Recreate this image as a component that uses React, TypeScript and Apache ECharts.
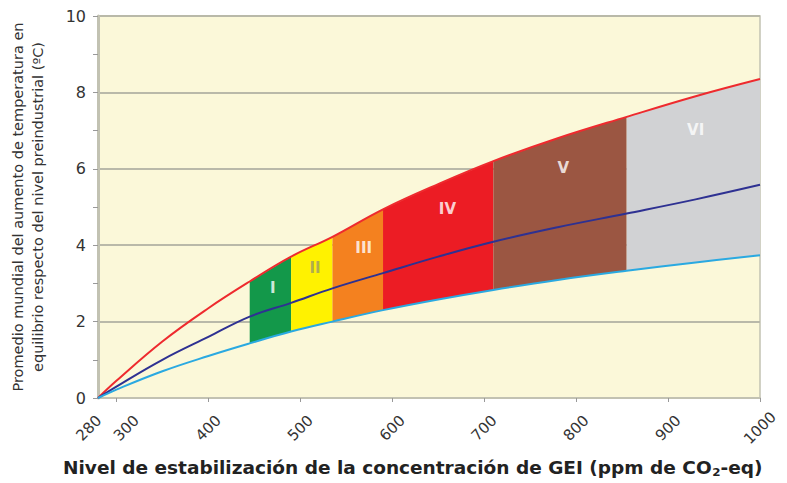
import React, { useEffect, useRef } from 'react';
import * as echarts from 'echarts';

// CO2-eq concentration (ppm) at which the curves are read
const X = [280, 300, 350, 400, 445, 490, 535, 590, 650, 710, 780, 855, 930, 1000];
// Warming (°C)
const upper = [0, 0.45, 1.48, 2.35, 3.05, 3.7, 4.22, 4.94, 5.6, 6.2, 6.8, 7.36, 7.9, 8.35];
const middle = [0, 0.3, 1.0, 1.6, 2.13, 2.49, 2.87, 3.27, 3.7, 4.09, 4.47, 4.83, 5.2, 5.58];
const lower = [0, 0.22, 0.7, 1.1, 1.43, 1.74, 2.0, 2.3, 2.58, 2.83, 3.09, 3.33, 3.55, 3.74];

// Stabilization categories
const bandNames = ['I', 'II', 'III', 'IV', 'V', 'VI'];
const bandStart = [445, 490, 535, 590, 710, 855];
const bandEnd = [490, 535, 590, 710, 855, 1000];
const bandColors = ['#13984a', '#fff200', '#f4811f', '#ec1c24', '#9b5642', '#d1d2d4'];
const labelX = [470, 516, 569, 660, 786, 930];
const labelY = [2.88, 3.4, 3.92, 4.94, 6.01, 7.02];
const labelColors = ['#ffffff', '#9a9a66', '#ffffff', '#ffffff', '#ffffff', '#ffffff'];

const xLabelValues = [300, 400, 500, 600, 700, 800, 900, 1000];
const xStartLabel = [280];
const xTickValues = [300, 400, 500, 600, 700, 800, 900, 1000];

const FONT = 'DejaVu Sans';

export default function App() {
  const ref = useRef<HTMLDivElement>(null);

  useEffect(() => {
    if (!ref.current) return;
    const chart = echarts.init(ref.current, undefined, { renderer: 'svg' });
    const pair = (ys: number[]) => X.map((x, i) => [x, ys[i]]);

    const labelBase = {
      interval: 0,
      hideOverlap: false,
      rotate: 45,
      align: 'center',
      verticalAlign: 'middle',
      margin: 30,
      fontSize: 15,
      color: '#333',
      fontFamily: FONT,
    };

    chart.setOption({
      animation: false,
      grid: {
        left: 97,
        right: 27,
        top: 16,
        bottom: 85,
        show: true,
        backgroundColor: '#fbf8d9',
        borderColor: '#c2c2b2',
        borderWidth: 1.5,
      },
      xAxis: [
        {
          type: 'value',
          min: 280,
          max: 1000,
          axisLine: { show: true, lineStyle: { color: '#c2c2b2', width: 2 } },
          axisTick: { show: true, customValues: xTickValues, length: 4, lineStyle: { color: '#999' } },
          splitLine: { show: false },
          axisLabel: {
            ...labelBase,
            customValues: xLabelValues,
            showMinLabel: true,
            showMaxLabel: true,
            formatter: (v: number) => (v === 300 ? `{s|${v}}` : String(v)),
            rich: {
              s: { padding: [14, 0, 0, 14], fontSize: 15, color: '#333', fontFamily: FONT },
            },
          },
        },
        {
          type: 'value',
          min: 280,
          max: 1000,
          position: 'bottom',
          axisLine: { show: false },
          axisTick: { show: false },
          splitLine: { show: false },
          axisLabel: {
            ...labelBase,
            customValues: xStartLabel,
            showMinLabel: true,
            showMaxLabel: true,
            formatter: (v: number) => `{s|${v}}`,
            rich: {
              s: { padding: [0, 13, 13, 0], fontSize: 15, color: '#333', fontFamily: FONT },
            },
          },
        },
      ],
      yAxis: {
        type: 'value',
        min: 0,
        max: 10,
        interval: 2,
        axisLine: { show: true, lineStyle: { color: '#c2c2b2', width: 3 } },
        axisTick: { show: true, length: 5, lineStyle: { color: '#999' } },
        minorTick: { show: true, splitNumber: 2, length: 5, lineStyle: { color: '#999' } },
        splitLine: { show: true, lineStyle: { color: '#b9b9a9', width: 2 } },
        axisLabel: { fontSize: 16, color: '#333', margin: 12, fontFamily: FONT },
        name: 'Promedio mundial del aumento de temperatura en\nequilibrio respecto del nivel preindustrial (ºC)',
        nameLocation: 'middle',
        nameGap: 50,
        nameTextStyle: { fontSize: 14.5, color: '#333', fontFamily: FONT, lineHeight: 20 },
      },
      graphic: [
        {
          type: 'text',
          x: 63,
          y: 458,
          scaleX: 1.09,
          style: {
            text: 'Nivel de estabilización de la concentración de GEI (ppm de CO{sub|2}-eq)',
            font: `bold 17px "${FONT}"`,
            fill: '#222',
            rich: {
              sub: { fontSize: 11, fontWeight: 'bold', verticalAlign: 'bottom', padding: [9, 0, 0, 0], fill: '#222', fontFamily: FONT },
            },
          },
        },
      ],
      series: [
        {
          type: 'custom',
          z: 1,
          clip: true,
          data: bandStart.map((s, i) => [s, bandEnd[i], 0, 10]),
          encode: { x: [0, 1], y: [2, 3] },
          renderItem: (params: any, api: any) => {
            const x0 = api.value(0);
            const x1 = api.value(1);
            const top: number[][] = [];
            const bot: number[][] = [];
            X.forEach((x, i) => {
              if (x >= x0 && x <= x1) {
                top.push(api.coord([x, upper[i]]));
                bot.push(api.coord([x, lower[i]]));
              }
            });
            return {
              type: 'polygon',
              shape: { points: top.concat(bot.reverse()) },
              style: { fill: bandColors[params.dataIndex], stroke: null },
            };
          },
        },
        {
          type: 'line',
          z: 3,
          data: pair(upper),
          smooth: 0.4,
          showSymbol: false,
          lineStyle: { color: '#ee2a2e', width: 2 },
        },
        {
          type: 'line',
          z: 3,
          data: pair(middle),
          smooth: 0.4,
          showSymbol: false,
          lineStyle: { color: '#2e3192', width: 2 },
        },
        {
          type: 'line',
          z: 3,
          data: pair(lower),
          smooth: 0.4,
          showSymbol: false,
          lineStyle: { color: '#2aa9e1', width: 2 },
        },
        {
          type: 'scatter',
          z: 4,
          symbolSize: 0,
          data: bandNames.map((n, i) => ({
            value: [labelX[i], labelY[i]],
            name: n,
            label: { color: labelColors[i] },
          })),
          label: {
            show: true,
            position: 'inside',
            formatter: (p: any) => p.name,
            fontSize: 15,
            fontWeight: 'bold',
            fontFamily: FONT,
          },
        },
      ],
    });

    return () => chart.dispose();
  }, []);

  return (
    <div
      ref={ref}
      style={{ position: 'fixed', left: 0, top: 0, width: 787, height: 483, background: '#fff' }}
    />
  );
}
